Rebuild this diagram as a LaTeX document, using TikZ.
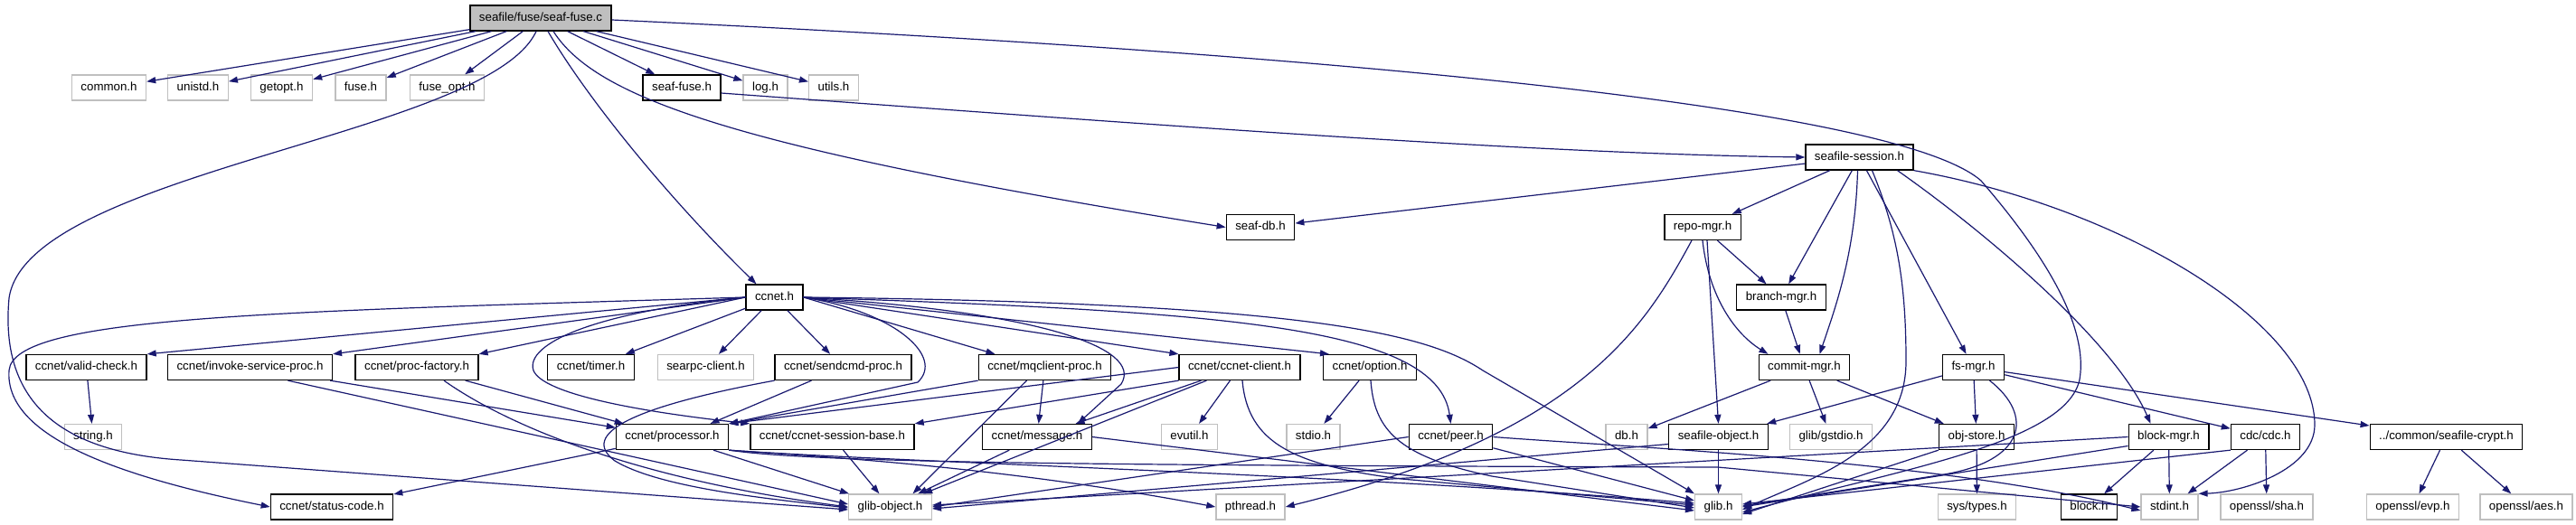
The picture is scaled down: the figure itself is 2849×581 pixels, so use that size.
\documentclass[tikz,border=0pt]{standalone}
\usepackage{fontspec}
\newfontfamily\nf{Liberation Sans}
\usetikzlibrary{arrows.meta}
\definecolor{edgeblue}{HTML}{191970}
\definecolor{lgray}{HTML}{BFBFBF}
\definecolor{rootgray}{HTML}{BFBFBF}
\tikzset{
  doc/.style={draw=black, line width=1.3pt, fill=white, font=\nf\fontsize{13.3}{15}\selectfont,
    minimum height=28pt, inner xsep=10pt, inner ysep=0pt, text height=9.6pt, text depth=2.8pt},
  ext/.style={doc, draw=lgray},
  root/.style={doc, fill=rootgray},
  e/.style={draw=edgeblue, line width=1.2pt, -{Triangle[length=10pt,width=7pt]}},
}
\begin{document}
\begin{tikzpicture}[x=1pt,y=-1pt]
\fill[white] (0,0) rectangle (2849,581);
\useasboundingbox (0,0) rectangle (2849,581);
% row 1
\node[root] (F) at (598,20) {seafile/fuse/seaf-fuse.c};
% row 2
\node[ext] (common) at (120.5,97) {common.h};
\node[ext] (unistd) at (219,97) {unistd.h};
\node[ext] (getopt) at (311.5,97) {getopt.h};
\node[ext] (fuse) at (399,97) {fuse.h};
\node[ext] (fuseopt) at (494.5,97) {fuse\_opt.h};
\node[doc] (seaffuseh) at (754,97) {seaf-fuse.h};
\node[ext] (log) at (846.5,97) {log.h};
\node[ext] (utils) at (922,97) {utils.h};
% row 3
\node[doc] (session) at (2056.5,174) {seafile-session.h};
\node[doc] (seafdb) at (1394,251.5) {seaf-db.h};
\node[doc] (repo) at (1883,251.5) {repo-mgr.h};
\node[doc] (ccneth) at (856.5,329) {ccnet.h};
\node[doc] (branch) at (1970,329) {branch-mgr.h};
% row 4
\node[doc] (valid) at (95.5,406.5) {ccnet/valid-check.h};
\node[doc] (invoke) at (276.5,406.5) {ccnet/invoke-service-proc.h};
\node[doc] (procf) at (461,406.5) {ccnet/proc-factory.h};
\node[doc] (timer) at (653.5,406.5) {ccnet/timer.h};
\node[ext] (searpc) at (780.5,406.5) {searpc-client.h};
\node[doc] (sendcmd) at (932.5,406.5) {ccnet/sendcmd-proc.h};
\node[doc] (mqclient) at (1155.5,406.5) {ccnet/mqclient-proc.h};
\node[doc] (client) at (1371,406.5) {ccnet/ccnet-client.h};
\node[doc] (option) at (1515,406.5) {ccnet/option.h};
\node[doc] (commit) at (1995.5,406.5) {commit-mgr.h};
\node[doc] (fsmgr) at (2182.5,406.5) {fs-mgr.h};
% row 5
\node[ext] (string) at (103,483.5) {string.h};
\node[doc] (processor) at (743.5,483.5) {ccnet/processor.h};
\node[doc] (sbase) at (920.5,483.5) {ccnet/ccnet-session-base.h};
\node[doc] (message) at (1147,483.5) {ccnet/message.h};
\node[ext] (evutil) at (1315.5,483.5) {evutil.h};
\node[ext] (stdio) at (1452.5,483.5) {stdio.h};
\node[doc] (peer) at (1604.5,483.5) {ccnet/peer.h};
\node[ext] (db) at (1799,483.5) {db.h};
\node[doc] (sobj) at (1900.5,483.5) {seafile-object.h};
\node[ext] (gstdio) at (2025,483.5) {glib/gstdio.h};
\node[doc] (objstore) at (2186,483.5) {obj-store.h};
\node[doc] (blockmgr) at (2398.5,483.5) {block-mgr.h};
\node[doc] (cdc) at (2505.5,483.5) {cdc/cdc.h};
\node[doc] (crypt) at (2705.5,483.5) {../common/seafile-crypt.h};
% row 6
\node[doc] (status) at (367,561) {ccnet/status-code.h};
\node[ext] (globj) at (984.5,561) {glib-object.h};
\node[ext] (pthread) at (1383,561) {pthread.h};
\node[ext] (glib) at (1900.5,561) {glib.h};
\node[ext] (systypes) at (2186.5,561) {sys/types.h};
\node[doc] (block) at (2310.5,561) {block.h};
\node[ext] (stdint) at (2399.5,561) {stdint.h};
\node[ext] (sha) at (2507,561) {openssl/sha.h};
\node[ext] (evp) at (2668.5,561) {openssl/evp.h};
\node[ext] (aes) at (2794,561) {openssl/aes.h};

% ---- edges from seaf-fuse.c
\draw[e] (F) -- (common);
\draw[e] (F) -- (unistd);
\draw[e] (F) -- (getopt);
\draw[e] (F) -- (fuse);
\draw[e] (F) -- (fuseopt);
\draw[e] (F) -- (seaffuseh);
\draw[e] (F) -- (log);
\draw[e] (F) -- (utils);
\draw[e] ([xshift=8]F.south) .. controls (650,110) and (740,220) .. ([xshift=-20]ccneth.north);
\draw[e] ([xshift=-5]F.south) .. controls (540,150) and (30,190) .. (10,330) .. controls (0,440) and (60,500) .. (200,509) -- ([yshift=-3]globj.west);
\draw[e] ([xshift=14]F.south) .. controls (660,110) and (820,165) .. (seafdb.west);
\draw[e] ([yshift=-2]F.east) .. controls (1500,60) and (2100,120) .. (2191,200) .. controls (2260,280) and (2310,360) .. (2300,420) .. controls (2285,490) and (2100,520) .. ([yshift=-6]glib.east);
% ---- seaf-fuse.h
\draw[e] ([yshift=-6]seaffuseh.east) .. controls (1300,140) and (1700,170) .. (session.west);
% ---- seafile-session.h
\draw[e] (session) -- (seafdb);
\draw[e] (session) -- (repo);
\draw[e] (session) -- (branch);
\draw[e] ([xshift=-2]session.south) .. controls (2052,280) and (2030,340) .. ([xshift=17]commit.north);
\draw[e] ([xshift=14]session.south) .. controls (2100,260) and (2108,320) .. (2108,400) .. controls (2108,500) and (2000,530) .. ([yshift=-3]glib.east);
\draw[e] (session) -- (fsmgr);
\draw[e] ([xshift=42]session.south) .. controls (2200,260) and (2340,380) .. ([xshift=-20]blockmgr.north);
\draw[e] (session.south east) .. controls (2350,230) and (2560,360) .. (2560,470) .. controls (2560,520) and (2480,545) .. (stdint.north east);
% ---- repo-mgr.h
\draw[e] (repo) -- (branch);
\draw[e] (repo.south) .. controls (1890,330) and (1920,370) .. ([xshift=-40]commit.north);
\draw[e] ([xshift=5]repo.south) -- (sobj.north);
\draw[e] ([xshift=-12]repo.south) .. controls (1820,360) and (1750,480) .. (pthread.east);
% ---- branch/commit
\draw[e] (branch) -- (commit);
\draw[e] (commit) -- (db);
\draw[e] (commit) -- (gstdio);
\draw[e] (commit) -- (objstore);
% ---- fs-mgr.h
\draw[e] (fsmgr) -- (sobj);
\draw[e] (fsmgr) -- (objstore);
\draw[e] (fsmgr) -- (cdc);
\draw[e] (fsmgr) -- (crypt);
\draw[e] ([xshift=18]fsmgr.south) .. controls (2250,460) and (2240,510) .. (2150,525) -- ([yshift=1]glib.east);
% ---- lower right
\draw[e] (objstore) -- (systypes);
\draw[e] (objstore.south west) -- ([yshift=-8]glib.east);
\draw[e] (blockmgr) -- (block);
\draw[e] (blockmgr) -- (stdint);
\draw[e] ([yshift=-10]blockmgr.west) -- ([yshift=0]glib.east);
\draw[e] (blockmgr.west) -- ([yshift=2]globj.east);
\draw[e] (cdc) -- (stdint);
\draw[e] (cdc) -- (sha);
\draw[e] (cdc.south west) -- ([yshift=3]glib.east);
\draw[e] (crypt) -- (evp);
\draw[e] (crypt) -- (aes);
\draw[e] (sobj) -- (glib);
\draw[e] ([yshift=-8]sobj.west) -- ([yshift=-2]globj.east);
% ---- ccnet.h
\draw[e] (ccneth.west) -- (valid.north east);
\draw[e] (ccneth.west) -- (invoke.north east);
\draw[e] (ccneth.west) -- (procf.north east);
\draw[e] (ccneth) -- (timer);
\draw[e] (ccneth) -- (searpc);
\draw[e] (ccneth) -- (sendcmd);
\draw[e] (ccneth.east) -- ([xshift=-55]mqclient.north);
\draw[e] (ccneth.east) -- (client.north west);
\draw[e] (ccneth.east) -- ([xshift=-45]option.north);
\draw[e] (ccneth.east) .. controls (1350,345) and (1590,360) .. (peer.north);
\draw[e] (ccneth.east) .. controls (1450,335) and (1580,370) .. (1640,410) -- (glib.north west);
\draw[e] (ccneth.east) .. controls (1150,345) and (1265,385) .. (1240,425) -- ([xshift=45]message.north);
\draw[e] (ccneth.east) .. controls (990,345) and (1045,395) .. (1015,423) -- (processor.north east);
\draw[e] (ccneth.west) .. controls (660,345) and (580,380) .. (590,410) .. controls (600,435) and (700,455) .. (sbase.north west);
\draw[e] (ccneth.west) .. controls (300,345) and (15,350) .. (10,410) .. controls (5,480) and (120,525) .. (status.west);
% ---- ccnet row 4
\draw[e] (valid) -- (string);
\draw[e] (invoke) -- (processor);
\draw[e] ([xshift=42]invoke.south) -- ([yshift=3]globj.west);
\draw[e] (procf) -- (processor);
\draw[e] ([xshift=30]procf.south) .. controls (560,470) and (700,530) .. (globj.west);
\draw[e] ([xshift=-35]sendcmd.south) -- ([xshift=42]processor.north);
\draw[e] (sendcmd.south west) .. controls (700,450) and (640,480) .. (680,510) .. controls (730,540) and (850,552) .. ([yshift=-1]globj.west);
\draw[e] (mqclient.south west) -- (processor.north east);
\draw[e] (mqclient) -- (message);
\draw[e] ([xshift=-20]mqclient.south) -- ([xshift=25]globj.north);
\draw[e] (client.west) -- (processor.north east);
\draw[e] (client.south west) -- (sbase.north east);
\draw[e] (client) -- (message);
\draw[e] (client) -- (globj);
\draw[e] (client) -- (evutil);
\draw[e] ([xshift=3]client.south) .. controls (1380,490) and (1430,515) .. (1550,530) -- ([yshift=2]glib.west);
\draw[e] (option) -- (stdio);
\draw[e] ([xshift=1]option.south) .. controls (1520,475) and (1545,505) .. (1650,527) -- ([yshift=-1]glib.west);
% ---- row 5 ccnet
\draw[e] (processor) -- (status);
\draw[e] (processor) -- (globj);
\draw[e] (processor.south east) .. controls (900,505) and (1100,515) .. (pthread.west);
\draw[e] (processor.south east) .. controls (1000,512) and (1500,525) .. ([yshift=4]glib.west);
\draw[e] (processor.south east) .. controls (900,512) and (1200,515) .. (1900,517) -- (stdint.west);
\draw[e] (sbase) -- (globj);
\draw[e] (message) -- (globj);
\draw[e] (message.east) -- ([yshift=-4]glib.west);
\draw[e] (peer.west) -- (globj.east);
\draw[e] (peer) -- (glib);
\draw[e] (peer.east) .. controls (1800,495) and (2150,510) .. ([yshift=-4]stdint.west);
\end{tikzpicture}
\end{document}
